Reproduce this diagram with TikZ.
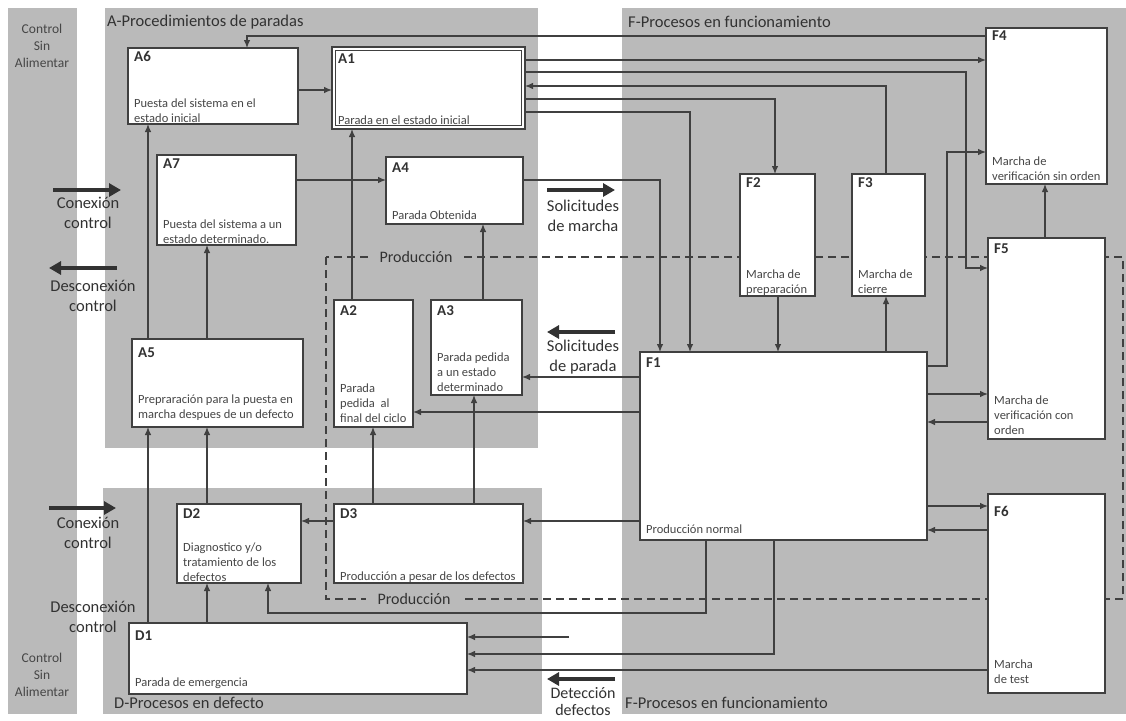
\documentclass[tikz,border=0pt]{standalone}
\usepackage{fontspec}
\setmainfont{Carlito}
\usetikzlibrary{arrows.meta}
\definecolor{reg}{RGB}{186,186,186}
\definecolor{ln}{RGB}{64,64,64}
\definecolor{txt}{RGB}{50,50,50}
\definecolor{dtxt}{RGB}{70,70,70}
\tikzset{
 pbox/.style={draw=ln, line width=1.3pt, fill=white, inner sep=0pt, outer sep=0pt, rectangle},
 ttl/.style={font=\fontsize{15}{18}\selectfont\bfseries, text=txt, inner sep=0pt},
 dsc/.style={font=\fontsize{12.5}{15}\selectfont, text=dtxt, inner sep=0pt},
 conn/.style={draw=ln, line width=1.1pt, -{Latex[length=8pt,width=6.5pt]}},
 bigarrow/.style={draw=txt, line width=4pt, -{Triangle[length=12pt,width=13pt]}},
 biglbl/.style={font=\fontsize{16.5}{19.5}\selectfont, text=txt, align=center, inner sep=0pt},
 regtitle/.style={font=\fontsize{16.5}{20}\selectfont, text=txt, inner sep=0pt},
 ctrl/.style={font=\fontsize{13.5}{17}\selectfont, text=dtxt, align=center, inner sep=0pt},
 prodlbl/.style={font=\fontsize{16}{19}\selectfont, text=txt, fill=reg, inner xsep=12pt, inner ysep=1pt},
 prodline/.style={draw=ln, line width=1.1pt, dash pattern=on 8pt off 5pt},
 regfill/.style={fill=reg}
}
\newcommand\mybox[9]{%
  \node[pbox, minimum width={#4pt-#2pt}, minimum height={#5pt-#3pt}, anchor=north west] (#1) at (#2,#3) {};
  \node[ttl, anchor=base west] (#1t) at (#2+6,#6) {#7};
  \node[dsc, anchor=base west] (#1d) at (#2+6,#8) {\begin{tabular}[b]{@{}l@{}}#9\end{tabular}};
}
\begin{document}
\begin{tikzpicture}[x=1pt,y=-1pt]
\useasboundingbox (0,0) rectangle (1126,720);
\clip (0,0) rectangle (1126,720);
\fill[white] (0,0) rectangle (1126,720);
% regions
\fill[regfill] (8,8) rectangle (77,714);
\fill[regfill] (105,8) rectangle (538,448);
\fill[regfill] (103,488) rectangle (542,714);
\fill[regfill] (622,8) rectangle (1126,714);
% region titles
\node[regtitle, anchor=west] (tA) at (107,22) {A-Procedimientos de paradas};
\node[regtitle, anchor=west] (tF) at (628,22) {F-Procesos en funcionamiento};
\node[regtitle, anchor=west] (tD) at (114,703) {D-Procesos en defecto};
\node[regtitle, anchor=west] (tF2) at (625,703) {F-Procesos en funcionamiento};
\node[ctrl] (ctrlT) at (42,46) {Control\\Sin\\Alimentar};
\node[ctrl] (ctrlB) at (42,675) {Control\\Sin\\Alimentar};
% production dashed frame
\draw[prodline] (326,257) rectangle (1123,599);
\node[prodlbl] (prodT) at (416,257) {Producción};
\node[prodlbl] (prodB) at (414,599) {Producción};
% boxes
\mybox{A6}{128}{48}{298}{124}{61}{A6}{122}{Puesta del sistema en el\\estado inicial}
\mybox{A1}{332}{47}{525}{129}{63}{A1}{124}{Parada en el estado inicial}
\mybox{A7}{157}{155}{296}{245}{168}{A7}{243}{Puesta del sistema a un\\estado determinado.}
\mybox{A4}{386}{157}{523}{224}{172}{A4}{219}{Parada Obtenida}
\mybox{A5}{132}{339}{303}{427}{357}{A5}{418}{Prepraración para la puesta en\\marcha despues de un defecto}
\mybox{A2}{334}{300}{413}{427}{315}{A2}{422}{Parada\\pedida\ \ al\\final del ciclo}
\mybox{A3}{431}{300}{522}{395}{315}{A3}{391}{Parada pedida\\a un estado\\determinado}
\mybox{D2}{177}{504}{301}{583}{518}{D2}{581}{Diagnostico y/o\\tratamiento de los\\defectos}
\mybox{D3}{334}{504}{523}{583}{518}{D3}{580}{Producción a pesar de los defectos}
\mybox{D1}{129}{623}{467}{694}{640}{D1}{686}{Parada de emergencia}
\mybox{F1}{640}{352}{927}{540}{367}{F1}{533}{Producción normal}
\mybox{F2}{740}{174}{815}{296}{187}{F2}{293}{Marcha de\\preparación}
\mybox{F3}{852}{174}{925}{296}{187}{F3}{293}{Marcha de\\cierre}
\mybox{F4}{986}{28}{1107}{184}{40}{F4}{180}{Marcha de\\verificación sin orden}
\mybox{F5}{988}{238}{1105}{439}{253}{F5}{434}{Marcha de\\verificación con\\orden}
\mybox{F6}{988}{494}{1105}{693}{516}{F6}{683}{Marcha\\de test}
\draw[draw=ln, line width=1pt] ([shift={(3.5pt,-3.5pt)}]A1.north west) rectangle ([shift={(-3.5pt,3.5pt)}]A1.south east);
% connectors
\draw[conn] (F4.west |- 0,36) -| (247,0 |- A6.north);
\draw[conn] (A6.east |- 0,90) -- (A1.west |- 0,90);
\draw[conn] (A1.east |- 0,60) -- (F4.west |- 0,60);
\draw[conn] (A1.east |- 0,72) -| (966,268) -- (F5.west |- 0,268);
\draw[conn] (886,0 |- F3.north) |- (A1.east |- 0,86);
\draw[conn] (A1.east |- 0,99) -| (775,0 |- F2.north);
\draw[conn] (A1.east |- 0,112) -| (690,0 |- F1.north);
\draw[conn] (A7.east |- 0,180) -- (A4.west |- 0,180);
\draw[conn] (A4.east |- 0,180) -| (660,0 |- F1.north);
\draw[conn] (148,0 |- A5.north) -- (148,0 |- A6.south);
\draw[conn] (207,0 |- A5.north) -- (207,0 |- A7.south);
\draw[conn] (352,0 |- A2.north) -- (352,0 |- A1.south);
\draw[conn] (483,0 |- A3.north) -- (483,0 |- A4.south);
\draw[conn] (F1.west |- 0,377) -- (A3.east |- 0,377);
\draw[conn] (F1.west |- 0,412) -- (A2.east |- 0,412);
\draw[conn] (148,0 |- D1.north) -- (148,0 |- A5.south);
\draw[conn] (207,0 |- D2.north) -- (207,0 |- A5.south);
\draw[conn] (207,0 |- D1.north) -- (207,0 |- D2.south);
\draw[conn] (373,0 |- D3.north) -- (373,0 |- A2.south);
\draw[conn] (474,0 |- D3.north) -- (474,0 |- A3.south);
\draw[conn] (D3.west |- 0,521) -- (D2.east |- 0,521);
\draw[conn] (F1.west |- 0,521) -- (D3.east |- 0,521);
\draw[conn] (706,0 |- F1.south) |- (268,613) -- (268,0 |- D2.south);
\draw[conn] (774,0 |- F1.south) |- (D1.east |- 0,654);
\coordinate (det) at (569,637);
\draw[conn] (det) -- (D1.east |- det);
\draw[conn] (F6.west |- 0,670) -- (D1.east |- 0,670);
\draw[conn] (778,0 |- F2.south) -- (778,0 |- F1.north);
\draw[conn] (886,0 |- F1.north) -- (886,0 |- F3.south);
\draw[conn] (F1.east |- 0,366) -| (947,152) -- (F4.west |- 0,152);
\draw[conn] (1045,0 |- F5.north) -- (1045,0 |- F4.south);
\draw[conn] (F1.east |- 0,394) -- (F5.west |- 0,394);
\draw[conn] (F5.west |- 0,422) -- (F1.east |- 0,422);
\draw[conn] (F1.east |- 0,506) -- (F6.west |- 0,506);
\draw[conn] (F6.west |- 0,530) -- (F1.east |- 0,530);
% big arrows and labels
\coordinate (k1a) at (53,190); \coordinate (k1b) at (121,190);
\draw[bigarrow] (k1a) -- (k1b);
\node[biglbl] (conT) at (88,213) {Conexión\\control};
\coordinate (k2a) at (117,268); \coordinate (k2b) at (49,268);
\draw[bigarrow] (k2a) -- (k2b);
\node[biglbl] (desT) at (93,296) {Desconexión\\control};
\coordinate (k3a) at (49,508); \coordinate (k3b) at (116,508);
\draw[bigarrow] (k3a) -- (k3b);
\node[biglbl] (conB) at (88,533) {Conexión\\control};
\node[biglbl] (desB) at (93,617) {Desconexión\\control};
\coordinate (k4a) at (547,190); \coordinate (k4b) at (615,190);
\draw[bigarrow] (k4a) -- (k4b);
\node[biglbl] (solM) at (583,216) {Solicitudes\\de marcha};
\coordinate (k5a) at (615,332); \coordinate (k5b) at (547,332);
\draw[bigarrow] (k5a) -- (k5b);
\node[biglbl] (solP) at (583,357) {Solicitudes\\de parada};
\coordinate (k6a) at (615,679); \coordinate (k6b) at (547,679);
\draw[bigarrow] (k6a) -- (k6b);
\node[biglbl, font=\fontsize{16}{17}\selectfont] (detD) at (583,702) {Detección\\defectos};
\end{tikzpicture}
\end{document}
